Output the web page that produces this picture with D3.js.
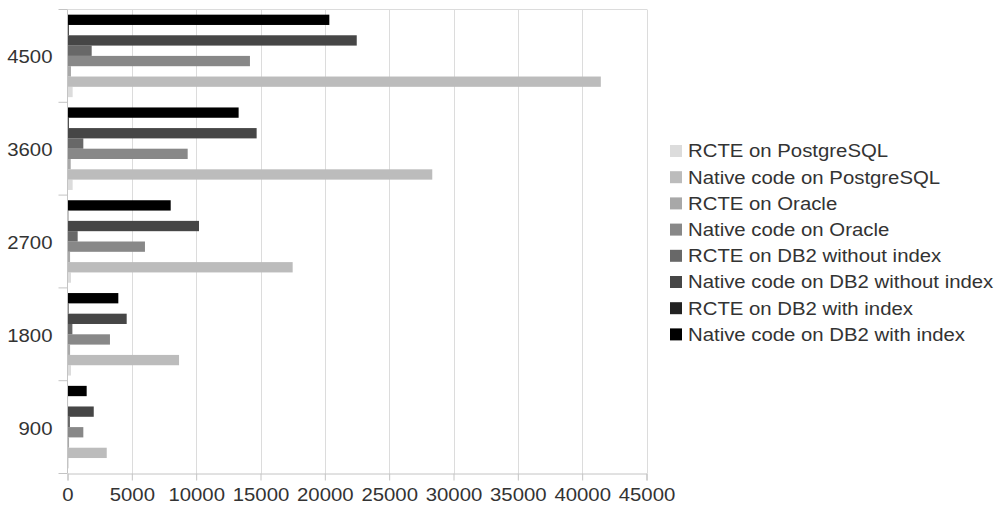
<!DOCTYPE html>
<html>
<head>
<meta charset="utf-8">
<script src="https://cdn.jsdelivr.net/npm/d3@7"></script>
<style>
  html, body { margin: 0; padding: 0; background: #fff; }
  svg { display: block; font-family: "Liberation Sans", Arial, sans-serif; }
</style>
</head>
<body>
<svg id="chart" width="995" height="511"></svg>
<script>
// Problem sizes (top of chart = largest)
const categories = ["4500", "3600", "2700", "1800", "900"];

// Series, in legend order
const seriesNames = [
  "RCTE on PostgreSQL",
  "Native code on PostgreSQL",
  "RCTE on Oracle",
  "Native code on Oracle",
  "RCTE on DB2 without index",
  "Native code on DB2 without index",
  "RCTE on DB2 with index",
  "Native code on DB2 with index"
];
const seriesColors = ["#dcdcdc", "#bcbcbc", "#a8a8a8", "#888888", "#686868", "#464646", "#222222", "#000000"];

// Run times per series, aligned with categories
const rctePostgres       = [400, 400, 270, 270, 100];
const nativePostgres     = [41450, 28350, 17500, 8670, 3050];
const rcteOracle         = [270, 250, 200, 200, 120];
const nativeOracle       = [14180, 9340, 6020, 3300, 1230];
const rcteDb2NoIndex     = [1880, 1230, 790, 380, 190];
const nativeDb2NoIndex   = [22480, 14700, 10220, 4600, 2040];
const rcteDb2Index       = [100, 100, 60, 80, 40];
const nativeDb2Index     = [20350, 13300, 8020, 3950, 1490];

const seriesValues = [rctePostgres, nativePostgres, rcteOracle, nativeOracle,
                      rcteDb2NoIndex, nativeDb2NoIndex, rcteDb2Index, nativeDb2Index];

const xTicks = [0, 5000, 10000, 15000, 20000, 25000, 30000, 35000, 40000, 45000];

const svg = d3.select("#chart");
const plot = { left: 67.5, right: 646.5, top: 9.5, bottom: 473.5 };
const fontSize = 18.5;
const stretch = 1.1;          // text is set slightly wide
const textColor = "#333333";
const axisColor = "#c4c4c4";

// Places a horizontally widened text label anchored at (px, py)
function label(sel, px, py, txt, anchor) {
  return sel.append("text")
    .attr("transform", `translate(${px},${py}) scale(${stretch},1)`)
    .attr("dy", "0.35em")
    .attr("text-anchor", anchor)
    .attr("fill", textColor)
    .attr("font-size", fontSize)
    .text(txt);
}

const x = d3.scaleLinear().domain([0, 45000]).range([plot.left, plot.right]);
const y = d3.scaleBand().domain(categories).range([plot.top, plot.bottom]).padding(0);
// Within a group the first series sits at the bottom
const ySeries = d3.scaleBand()
  .domain(d3.range(seriesNames.length).reverse())
  .range([0, y.bandwidth()])
  .paddingInner(0)
  .paddingOuter(0.5);

// Vertical gridlines
svg.append("g")
  .selectAll("line")
  .data(xTicks.slice(1))
  .join("line")
  .attr("x1", d => Math.round(x(d)) + 0.5)
  .attr("x2", d => Math.round(x(d)) + 0.5)
  .attr("y1", plot.top)
  .attr("y2", plot.bottom)
  .attr("stroke", "#dcdcdc")
  .attr("stroke-width", 1);

// Top border of the plot area
svg.append("line")
  .attr("x1", plot.left).attr("x2", plot.right + 0.5)
  .attr("y1", plot.top).attr("y2", plot.top)
  .attr("stroke", "#dcdcdc");

// Bars
const groups = svg.append("g")
  .selectAll("g")
  .data(categories)
  .join("g")
  .attr("transform", d => `translate(0,${y(d)})`);

groups.selectAll("rect")
  .data((c, ci) => seriesValues.map((vals, si) => ({ si, v: vals[ci] })))
  .join("rect")
  .attr("x", x(0))
  .attr("y", d => ySeries(d.si))
  .attr("width", d => x(d.v) - x(0))
  .attr("height", ySeries.bandwidth())
  .attr("fill", d => seriesColors[d.si]);

// X axis
const xAxis = svg.append("g")
  .attr("transform", `translate(0,${plot.bottom})`)
  .call(d3.axisBottom(x).tickValues(xTicks).tickSize(7).tickFormat(""));
xAxis.select(".domain").attr("stroke", axisColor);
xAxis.selectAll(".tick line").attr("stroke", axisColor);
xAxis.selectAll(".tick").each(function(d) {
  label(d3.select(this), 0, 21.5, d3.format("d")(d), "middle");
});

// Y axis
const yAxisG = svg.append("g").attr("transform", `translate(${plot.left},0)`);
yAxisG.append("line")
  .attr("x1", 0).attr("x2", 0)
  .attr("y1", plot.top).attr("y2", plot.bottom)
  .attr("stroke", axisColor);
// Tick marks at group boundaries
const boundaries = categories.map(c => y(c)).concat([plot.bottom]);
yAxisG.selectAll("line.tick")
  .data(boundaries)
  .join("line")
  .attr("class", "tick")
  .attr("x1", -9).attr("x2", 0)
  .attr("y1", d => d).attr("y2", d => d)
  .attr("stroke", axisColor);
categories.forEach(c => label(yAxisG, -15, y(c) + y.bandwidth() / 2 + 1, c, "end"));

// Legend
const legend = svg.append("g").attr("transform", "translate(670,151)");
seriesNames.forEach((name, i) => {
  const item = legend.append("g").attr("transform", `translate(0,${i * 26.2})`);
  item.append("rect")
    .attr("x", 0).attr("y", -6)
    .attr("width", 12).attr("height", 12)
    .attr("fill", seriesColors[i]);
  label(item, 18, 0, name, "start");
});
</script>
</body>
</html>
